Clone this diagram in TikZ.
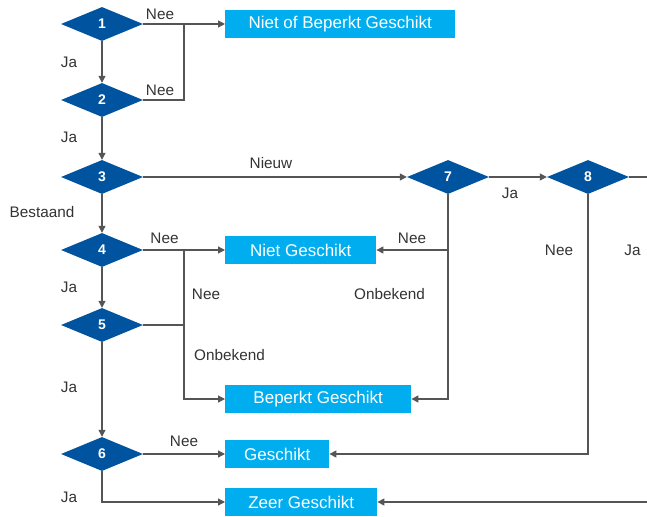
\documentclass[tikz,border=0pt]{standalone}
\usepackage{fontspec}
\setmainfont{Liberation Sans}
\usetikzlibrary{shapes.geometric,arrows.meta}
\definecolor{dia}{HTML}{00539F}
\definecolor{boxc}{HTML}{00AEEF}
\definecolor{ln}{HTML}{555555}
\definecolor{txt}{HTML}{333333}
\begin{document}
\begin{tikzpicture}[x=1pt,y=-1pt,
  dec/.style={diamond, fill=dia, minimum width=82pt, minimum height=34pt, inner sep=0pt, text=white, font=\fontsize{14}{14}\selectfont\bfseries},
  res/.style={rectangle, fill=boxc, anchor=west, minimum height=28pt, inner sep=0pt, text=white, font=\fontsize{17}{17}\selectfont},
  lbl/.style={text=txt, font=\fontsize{15.3}{15.3}\selectfont, inner sep=0pt},
  conn/.style={draw=ln, line width=1.2pt},
  arr/.style={conn, -{Triangle[length=7pt,width=7pt]}},
]
\useasboundingbox (0,0) rectangle (647,516);
% decisions
\node[dec] (d1) at (102,24) {1};
\node[dec] (d2) at (102,100) {2};
\node[dec] (d3) at (102,177) {3};
\node[dec] (d4) at (102,250) {4};
\node[dec] (d5) at (102,325) {5};
\node[dec] (d6) at (102,454) {6};
\node[dec] (d7) at (448,177) {7};
\node[dec] (d8) at (588,177) {8};
% results
\node[res, minimum width=230pt] (b1) at (225,24) {Niet of Beperkt Geschikt};
\node[res, minimum width=151pt] (b2) at (225,250) {Niet Geschikt};
\node[res, minimum width=186pt] (b3) at (225,399) {Beperkt Geschikt};
\node[res, minimum width=104pt] (b4) at (225,454) {Geschikt};
\node[res, minimum width=152pt] (b5) at (225,502) {Zeer Geschikt};
% junctions
\coordinate (j1) at (184,24);
\coordinate (j4) at (184,250);
\coordinate (edge) at (652,502);
% connectors
\draw[arr] (d1.east) -- (b1.west);
\draw[conn] (d2.east) -| (j1);
\draw[arr] (d1) -- (d2);
\draw[arr] (d2) -- (d3);
\draw[arr] (d3) -- (d7);
\draw[arr] (d7) -- (d8);
\draw[arr] (d8.east) -| (edge) -- (b5.east);
\draw[arr] (d8.south) |- (b4.east);
\draw[arr] (d7.south) |- (b3.east);
\draw[arr] (d7.south |- b2.east) -- (b2.east);
\draw[arr] (d3) -- (d4);
\draw[arr] (d4) -- (d5);
\draw[arr] (d5) -- (d6);
\draw[arr] (d4.east) -- (b2.west);
\draw[arr] (j4) |- (b3.west);
\draw[conn] (d5.east) -- (d5.east -| j4);
\draw[arr] (d6.east) -- (b4.west);
\draw[arr] (d6.south) |- (b5.west);
% labels
\node[lbl] (l1) at (160,14.5) {Nee};
\node[lbl] (l2) at (160,90) {Nee};
\node[lbl] (l3) at (69,62) {Ja};
\node[lbl] (l4) at (69,137) {Ja};
\node[lbl] (l5) at (271,163) {Nieuw};
\node[lbl] (l6) at (510,193) {Ja};
\node[lbl] (l7) at (42,212) {Bestaand};
\node[lbl] (l8) at (164.5,238.5) {Nee};
\node[lbl] (l9) at (69,287) {Ja};
\node[lbl] (l10) at (206,294.5) {Nee};
\node[lbl] (l11) at (229.5,355) {Onbekend};
\node[lbl] (l12) at (69,387) {Ja};
\node[lbl] (l13) at (184,441) {Nee};
\node[lbl] (l14) at (69,497) {Ja};
\node[lbl] (l15) at (412,238.5) {Nee};
\node[lbl] (l16) at (389.5,294) {Onbekend};
\node[lbl] (l17) at (559,250.5) {Nee};
\node[lbl] (l18) at (632.5,250) {Ja};
\end{tikzpicture}
\end{document}
